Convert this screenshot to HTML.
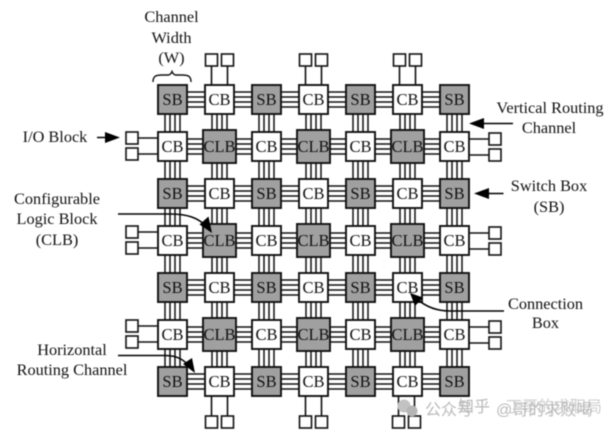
<!DOCTYPE html>
<html><head><meta charset="utf-8">
<style>
html,body{margin:0;padding:0;background:#fff;}
svg{display:block;filter:blur(0.4px);}
text{font-family:"Liberation Serif","Noto Serif CJK SC",serif;fill:#111;}
.b text{font-size:16.5px;text-anchor:middle;}
.l{font-size:16.3px;text-anchor:middle;}
.wm{font-family:"Liberation Sans","Noto Sans CJK SC",sans-serif;font-size:16px;fill:#b9b9b9;}
</style></head><body>
<svg width="608" height="434" viewBox="0 0 608 434" xmlns="http://www.w3.org/2000/svg">
<defs>
<g id="h" stroke="#111" stroke-width="1.5"><path d="M172 -7.500H455M172 -2.500H455M172 2.500H455M172 7.500H455"/></g>
<g id="v" stroke="#111" stroke-width="1.5"><path d="M-7.500 99V382M-2.500 99V382M2.500 99V382M7.500 99V382"/></g>
<rect id="sb" x="-14.500" y="-14.500" width="29" height="29" fill="#a0a0a0" stroke="#111" stroke-width="1.9"/>
<rect id="cb" x="-14.500" y="-14.500" width="29" height="29" fill="#fff" stroke="#111" stroke-width="1.9"/>
<rect id="clb" x="-16.500" y="-16.500" width="33" height="33" fill="#a0a0a0" stroke="#111" stroke-width="1.9"/>
</defs>
<use href="#h" y="99.500"/><use href="#h" y="146.500"/><use href="#h" y="193.500"/><use href="#h" y="240.500"/><use href="#h" y="287.500"/><use href="#h" y="334.500"/><use href="#h" y="381.500"/>
<use href="#v" x="172.500"/><use href="#v" x="219.500"/><use href="#v" x="266.500"/><use href="#v" x="313.500"/><use href="#v" x="360.500"/><use href="#v" x="407.500"/><use href="#v" x="454.500"/>

<g stroke="#111" stroke-width="1.6" fill="none">
<path d="M211.500 66V86M227.500 66V86M305.500 66V86M321.500 66V86M399.500 66V86M415.500 66V86"/>
<path d="M211.500 395V416M227.500 395V416M305.500 395V416M321.500 395V416M398.500 395V416M414.500 395V416"/>
<path d="M138 138H159M138 154H159M138 232H159M138 248H159M138 326H159M138 342H159"/>
<path d="M468 139H489M468 155H489M468 233H489M468 249H489M468 327H489M468 343H489"/>
</g>
<g fill="#fff" stroke="#111" stroke-width="1.6">
<rect x="205.500" y="54" width="12" height="12"/><rect x="221.500" y="54" width="12" height="12"/>
<rect x="299.500" y="54" width="12" height="12"/><rect x="315.500" y="54" width="12" height="12"/>
<rect x="393.500" y="54" width="12" height="12"/><rect x="409.500" y="54" width="12" height="12"/>
<rect x="205.500" y="416" width="12" height="12"/><rect x="221.500" y="416" width="12" height="12"/>
<rect x="299.500" y="416" width="12" height="12"/><rect x="315.500" y="416" width="12" height="12"/>
<rect x="392.500" y="416" width="12" height="12"/><rect x="408.500" y="416" width="12" height="12"/>
<rect x="126" y="132" width="12" height="12"/><rect x="126" y="148" width="12" height="12"/>
<rect x="126" y="226" width="12" height="12"/><rect x="126" y="242" width="12" height="12"/>
<rect x="126" y="320" width="12" height="12"/><rect x="126" y="336" width="12" height="12"/>
<rect x="489" y="133" width="12" height="12"/><rect x="489" y="149" width="12" height="12"/>
<rect x="489" y="227" width="12" height="12"/><rect x="489" y="243" width="12" height="12"/>
<rect x="489" y="321" width="12" height="12"/><rect x="489" y="337" width="12" height="12"/>
</g>

<use href="#sb" x="172.500" y="99.500"/><use href="#cb" x="219.500" y="99.500"/><use href="#sb" x="266.500" y="99.500"/><use href="#cb" x="313.500" y="99.500"/><use href="#sb" x="360.500" y="99.500"/><use href="#cb" x="407.500" y="99.500"/><use href="#sb" x="454.500" y="99.500"/>
<use href="#cb" x="172.500" y="146.500"/><use href="#clb" x="219.500" y="146.500"/><use href="#cb" x="266.500" y="146.500"/><use href="#clb" x="313.500" y="146.500"/><use href="#cb" x="360.500" y="146.500"/><use href="#clb" x="407.500" y="146.500"/><use href="#cb" x="454.500" y="146.500"/>
<use href="#sb" x="172.500" y="193.500"/><use href="#cb" x="219.500" y="193.500"/><use href="#sb" x="266.500" y="193.500"/><use href="#cb" x="313.500" y="193.500"/><use href="#sb" x="360.500" y="193.500"/><use href="#cb" x="407.500" y="193.500"/><use href="#sb" x="454.500" y="193.500"/>
<use href="#cb" x="172.500" y="240.500"/><use href="#clb" x="219.500" y="240.500"/><use href="#cb" x="266.500" y="240.500"/><use href="#clb" x="313.500" y="240.500"/><use href="#cb" x="360.500" y="240.500"/><use href="#clb" x="407.500" y="240.500"/><use href="#cb" x="454.500" y="240.500"/>
<use href="#sb" x="172.500" y="287.500"/><use href="#cb" x="219.500" y="287.500"/><use href="#sb" x="266.500" y="287.500"/><use href="#cb" x="313.500" y="287.500"/><use href="#sb" x="360.500" y="287.500"/><use href="#cb" x="407.500" y="287.500"/><use href="#sb" x="454.500" y="287.500"/>
<use href="#cb" x="172.500" y="334.500"/><use href="#clb" x="219.500" y="334.500"/><use href="#cb" x="266.500" y="334.500"/><use href="#clb" x="313.500" y="334.500"/><use href="#cb" x="360.500" y="334.500"/><use href="#clb" x="407.500" y="334.500"/><use href="#cb" x="454.500" y="334.500"/>
<use href="#sb" x="172.500" y="381.500"/><use href="#cb" x="219.500" y="381.500"/><use href="#sb" x="266.500" y="381.500"/><use href="#cb" x="313.500" y="381.500"/><use href="#sb" x="360.500" y="381.500"/><use href="#cb" x="407.500" y="381.500"/><use href="#sb" x="454.500" y="381.500"/>

<g class="b">
<text x="172.500" y="105">SB</text><text x="219.500" y="105">CB</text><text x="266.500" y="105">SB</text><text x="313.500" y="105">CB</text><text x="360.500" y="105">SB</text><text x="407.500" y="105">CB</text><text x="454.500" y="105">SB</text>
<text x="172.500" y="152">CB</text><text x="219.500" y="152">CLB</text><text x="266.500" y="152">CB</text><text x="313.500" y="152">CLB</text><text x="360.500" y="152">CB</text><text x="407.500" y="152">CLB</text><text x="454.500" y="152">CB</text>
<text x="172.500" y="199">SB</text><text x="219.500" y="199">CB</text><text x="266.500" y="199">SB</text><text x="313.500" y="199">CB</text><text x="360.500" y="199">SB</text><text x="407.500" y="199">CB</text><text x="454.500" y="199">SB</text>
<text x="172.500" y="246">CB</text><text x="219.500" y="246">CLB</text><text x="266.500" y="246">CB</text><text x="313.500" y="246">CLB</text><text x="360.500" y="246">CB</text><text x="407.500" y="246">CLB</text><text x="454.500" y="246">CB</text>
<text x="172.500" y="293">SB</text><text x="219.500" y="293">CB</text><text x="266.500" y="293">SB</text><text x="313.500" y="293">CB</text><text x="360.500" y="293">SB</text><text x="407.500" y="293">CB</text><text x="454.500" y="293">SB</text>
<text x="172.500" y="340">CB</text><text x="219.500" y="340">CLB</text><text x="266.500" y="340">CB</text><text x="313.500" y="340">CLB</text><text x="360.500" y="340">CB</text><text x="407.500" y="340">CLB</text><text x="454.500" y="340">CB</text>
<text x="172.500" y="387">SB</text><text x="219.500" y="387">CB</text><text x="266.500" y="387">SB</text><text x="313.500" y="387">CB</text><text x="360.500" y="387">SB</text><text x="407.500" y="387">CB</text><text x="454.500" y="387">SB</text>
</g>

<path d="M153 82C153 76 156 75 162 75H168C170 75 171 74 172 71.500C173 74 174 75 176 75H182C188 75 191 76 191 82" fill="none" stroke="#111" stroke-width="1.4"/>

<g stroke="#000" stroke-width="1.5" fill="none">
<path d="M97 137.500H108"/>
<path d="M118 214H170C188 214 198 218 206 226"/>
<path d="M118 355.500H165C178 355.500 184 360 190 367"/>
<path d="M504 311H450C435 311 425 306 417 299"/>
<path d="M513 123.500H482"/>
<path d="M503.500 193.500H487"/>
</g>
<g fill="#000">
<path d="M120 137.500L105 132V143Z"/>
<path d="M212 233L199.500 224.500L208.500 216.500Z"/>
<path d="M195 373L183 364L192 358Z"/>
<path d="M410 293L423 297.500L415 306Z"/>
<path d="M469 123.500L484 118V129Z"/>
<path d="M474 193.500L489 188V199Z"/>
</g>

<g class="l">
<text x="171.500" y="22">Channel</text>
<text x="171.500" y="43">Width</text>
<text x="171.500" y="63">(W)</text>
<text x="55" y="142">I/O Block</text>
<text x="57" y="204">Configurable</text>
<text x="57" y="224">Logic Block</text>
<text x="57" y="245">(CLB)</text>
<text x="72" y="355">Horizontal</text>
<text x="72" y="375">Routing Channel</text>
<text x="545.500" y="309">Connection</text>
<text x="545.500" y="328">Box</text>
<text x="550" y="113">Vertical Routing</text>
<text x="549" y="133">Channel</text>
<text x="549" y="191">Switch Box</text>
<text x="549" y="212">(SB)</text>
</g>

<circle cx="404" cy="406" r="6.500" fill="#c2c2c2"/>
<circle cx="412" cy="411" r="5.500" fill="#b5b5b5"/>
<text class="wm" x="425" y="415">公众号</text>
<text class="wm" x="458" y="412">知乎</text>
<text class="wm" x="496" y="415">@哥的求败喝</text>
<text class="wm" x="506" y="412" opacity="0.7">丁哥的求职局</text>
</svg>
</body></html>
